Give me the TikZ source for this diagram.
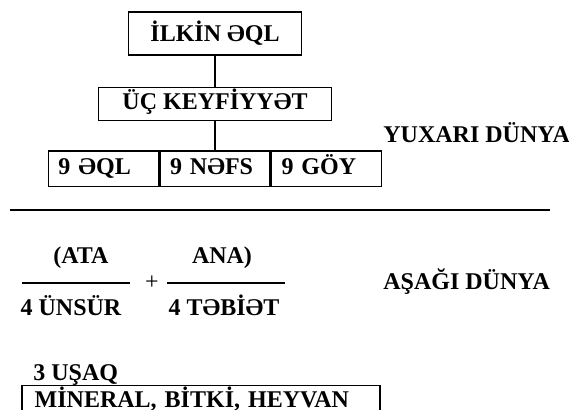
\documentclass[tikz,border=0pt]{standalone}
\usepackage{fontspec}
\setmainfont{Liberation Serif}
\usetikzlibrary{positioning}
\tikzset{%
box/.style={draw,rectangle,line width=0.75pt,font=\bfseries\fontsize{12}{14}\selectfont},
cell/.style={box,minimum height=16.5pt,text width=45pt,inner xsep=5pt,align=left,
             text height=8.5pt,text depth=2.5pt},
caption/.style={font=\bfseries\fontsize{12}{14}\selectfont,inner sep=0pt},
link/.style={line width=0.6pt},
fracbar/.style={line width=0.8pt},
rule/.style={line width=1pt}
}

\begin{document}
\begin{tikzpicture}[x=0.5pt,y=-0.5pt]
    \clip (0,0) rectangle (569,410);

    \node[box,minimum width=86.5pt,minimum height=21.5pt] (ilkin) at (215,33.5) {İLKİN ƏQL};
    \node[box,minimum width=116.5pt,minimum height=16.5pt,text height=8.5pt,text depth=2.5pt,
          inner ysep=2pt] (keyf) [below=15.5pt of ilkin] {ÜÇ KEYFİYYƏT};
    \node[cell] (nefs) [below=14.5pt of keyf] {9 NƏFS};
    \node[cell] (eql) [left=0pt of nefs] {9 ƏQL};
    \node[cell] (goy) [right=0pt of nefs] {9 GÖY};
    \node[caption,anchor=base west] (yuxari) at (383,143) {YUXARI DÜNYA};

    \path[link] (ilkin) edge (keyf)
                (keyf) edge (nefs);

    \coordinate (ruleL) at (10,210);
    \coordinate (ruleR) at (550,210);
    \draw[rule] (ruleL) -- (ruleR);

    \node[caption,anchor=base] (ata) at (81,264) {(ATA};
    \node[caption,anchor=base] (ana) at (222,264) {ANA)};
    \coordinate (barAL) at (22,283);
    \coordinate (barAR) at (130,283);
    \coordinate (barBL) at (167,283);
    \coordinate (barBR) at (285,283);
    \draw[fracbar] (barAL) -- (barAR);
    \draw[fracbar] (barBL) -- (barBR);
    \node[inner sep=0pt,font=\fontsize{12}{14}\selectfont] (plus) at (152,283) {+};
    \node[caption,anchor=base] (unsur) at (71,316) {4 ÜNSÜR};
    \node[caption,anchor=base] (tebiet) at (224,316) {4 TƏBİƏT};
    \node[caption,anchor=base west] (asagi) at (383,290) {AŞAĞI DÜNYA};

    \node[caption,anchor=base west] (usaq) at (33,381) {3 UŞAQ};
    \node[box,anchor=north west,text width=166pt,inner xsep=6.5pt,inner ysep=2pt,
          text height=9pt,text depth=5pt,align=left] (mineral) at (21,385) {MİNERAL, BİTKİ, HEYVAN};
\end{tikzpicture}
\end{document}
